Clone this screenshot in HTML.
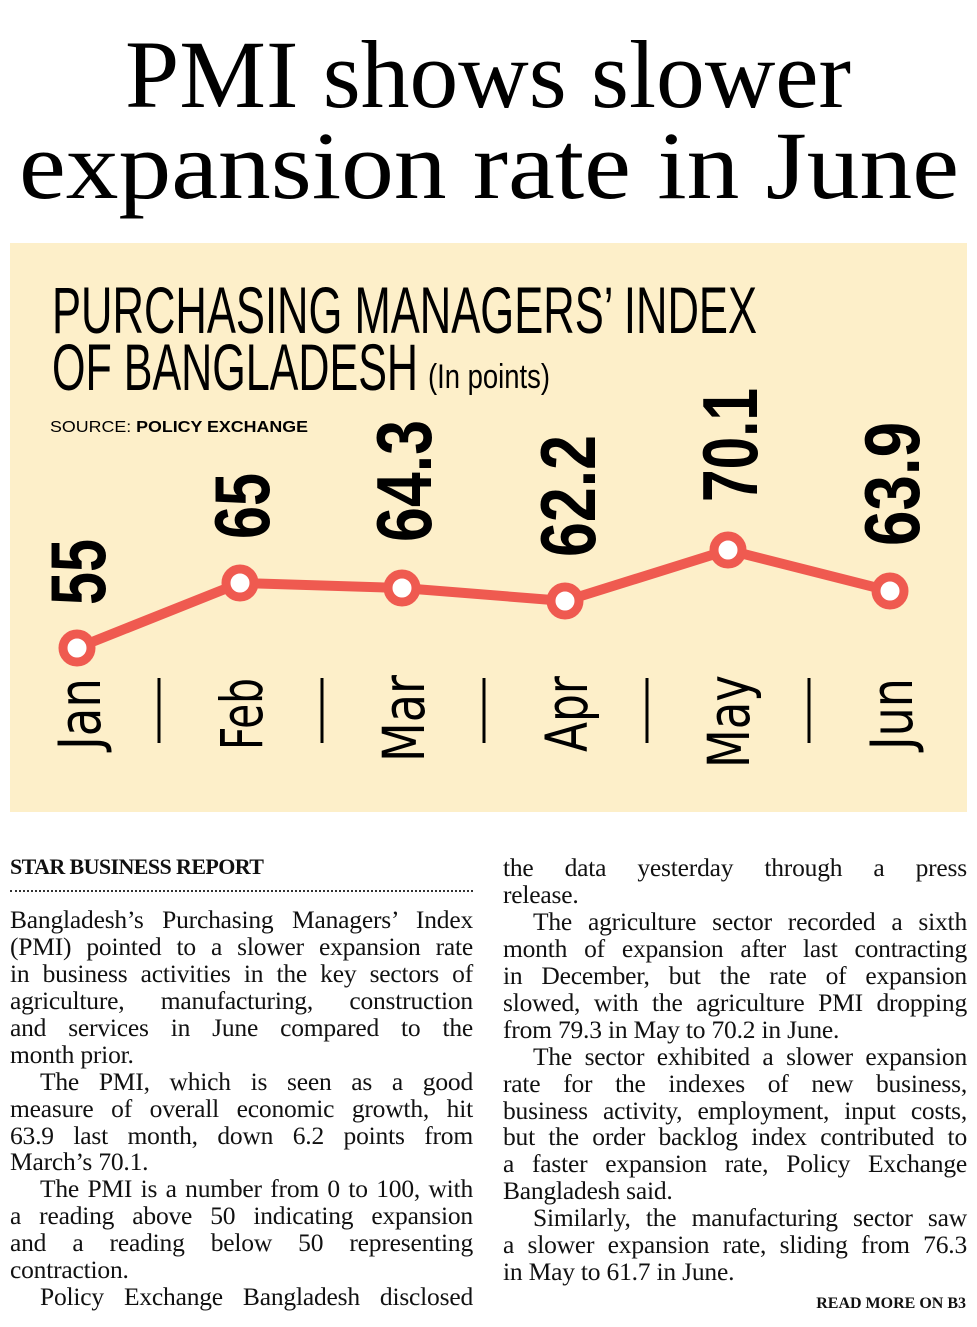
<!DOCTYPE html>
<html><head><meta charset="utf-8"><style>
body{margin:0;width:977px;height:1327px;background:#fff;position:relative;overflow:hidden;font-family:"Liberation Serif",serif;}
.l{position:absolute;height:27px;line-height:27px;font-size:25.5px;letter-spacing:-0.2px;color:#111;white-space:nowrap;}
.j{text-align:justify;text-align-last:justify;white-space:normal;}
.L{left:10px;width:463px}.R{left:503px;width:464px}
.i{text-indent:30px}
</style></head><body>
<svg width="977" height="820" style="position:absolute;left:0;top:0">
<text x="488" y="107" text-anchor="middle" font-family="Liberation Serif" font-size="96" textLength="726" lengthAdjust="spacingAndGlyphs" fill="#000">PMI shows slower</text>
<text x="489" y="198" text-anchor="middle" font-family="Liberation Serif" font-size="96" textLength="940" lengthAdjust="spacingAndGlyphs" fill="#000">expansion rate in June</text>
<rect x="10" y="243" width="957" height="569" fill="#fdefc9"/>
<text x="52" y="333" font-family="Liberation Sans" font-size="66" textLength="705" lengthAdjust="spacingAndGlyphs" fill="#000">PURCHASING MANAGERS’ INDEX</text>
<text x="52" y="390" font-family="Liberation Sans" font-size="66" textLength="366" lengthAdjust="spacingAndGlyphs" fill="#000">OF BANGLADESH</text>
<text x="428" y="388" font-family="Liberation Sans" font-size="34" textLength="122" lengthAdjust="spacingAndGlyphs" fill="#000">(In points)</text>
<text x="50" y="432" font-family="Liberation Sans" font-size="16" textLength="258" lengthAdjust="spacingAndGlyphs" fill="#000">SOURCE: <tspan font-weight="bold">POLICY EXCHANGE</tspan></text>
<g stroke="#000" stroke-width="3">
<line x1="159" y1="678" x2="159" y2="743"/><line x1="322" y1="678" x2="322" y2="743"/><line x1="484" y1="678" x2="484" y2="743"/><line x1="647" y1="678" x2="647" y2="743"/><line x1="809" y1="678" x2="809" y2="743"/>
</g>
<polyline points="77,648 240,583 402,588 565,601 728,550 890,591" fill="none" stroke="#ef5a50" stroke-width="10" stroke-linejoin="round"/>
<g fill="#fff" stroke="#ef5a50" stroke-width="9">
<circle cx="77" cy="648" r="14"/><circle cx="240" cy="583" r="14"/><circle cx="402" cy="588" r="14"/><circle cx="565" cy="601" r="14"/><circle cx="728" cy="550" r="14"/><circle cx="890" cy="591" r="14"/>
</g>
<g font-family="DejaVu Sans" font-size="58" fill="#000">
<text transform="translate(100,750) rotate(-90)" textLength="72" lengthAdjust="spacingAndGlyphs">Jan</text>
<text transform="translate(262,750) rotate(-90)" textLength="72" lengthAdjust="spacingAndGlyphs">Feb</text>
<text transform="translate(424,762) rotate(-90)" textLength="87" lengthAdjust="spacingAndGlyphs">Mar</text>
<text transform="translate(587,752) rotate(-90)" textLength="76" lengthAdjust="spacingAndGlyphs">Apr</text>
<text transform="translate(749,768) rotate(-90)" textLength="93" lengthAdjust="spacingAndGlyphs">May</text>
<text transform="translate(912,750) rotate(-90)" textLength="72" lengthAdjust="spacingAndGlyphs">Jun</text>
</g>
<g font-family="Liberation Sans" font-weight="bold" font-size="78" fill="#000">
<text transform="translate(105,605) rotate(-90)" textLength="66" lengthAdjust="spacingAndGlyphs">55</text>
<text transform="translate(269,539) rotate(-90)" textLength="66" lengthAdjust="spacingAndGlyphs">65</text>
<text transform="translate(431,542) rotate(-90)" textLength="122" lengthAdjust="spacingAndGlyphs">64.3</text>
<text transform="translate(595,557) rotate(-90)" textLength="122" lengthAdjust="spacingAndGlyphs">62.2</text>
<text transform="translate(757,502) rotate(-90)" textLength="114" lengthAdjust="spacingAndGlyphs">70.1</text>
<text transform="translate(919,546) rotate(-90)" textLength="124" lengthAdjust="spacingAndGlyphs">63.9</text>
</g>
</svg>
<div class="l L" style="top:853px;font-weight:bold;font-size:22px;letter-spacing:-0.6px">STAR BUSINESS REPORT</div>
<div style="position:absolute;left:10px;top:890px;width:463px;border-top:2px dotted #333"></div>
<div class="l L j" style="top:906px">Bangladesh’s Purchasing Managers’ Index</div>
<div class="l L j" style="top:933px">(PMI) pointed to a slower expansion rate</div>
<div class="l L j" style="top:960px">in business activities in the key sectors of</div>
<div class="l L j" style="top:987px">agriculture, manufacturing, construction</div>
<div class="l L j" style="top:1014px">and services in June compared to the</div>
<div class="l L" style="top:1041px">month prior.</div>
<div class="l L j i" style="top:1068px">The PMI, which is seen as a good</div>
<div class="l L j" style="top:1095px">measure of overall economic growth, hit</div>
<div class="l L j" style="top:1122px">63.9 last month, down 6.2 points from</div>
<div class="l L" style="top:1148px">March’s 70.1.</div>
<div class="l L j i" style="top:1175px">The PMI is a number from 0 to 100, with</div>
<div class="l L j" style="top:1202px">a reading above 50 indicating expansion</div>
<div class="l L j" style="top:1229px">and a reading below 50 representing</div>
<div class="l L" style="top:1256px">contraction.</div>
<div class="l L j i" style="top:1283px">Policy Exchange Bangladesh disclosed</div>

<div class="l R j" style="top:854px">the data yesterday through a press</div>
<div class="l R" style="top:881px">release.</div>
<div class="l R j i" style="top:908px">The agriculture sector recorded a sixth</div>
<div class="l R j" style="top:935px">month of expansion after last contracting</div>
<div class="l R j" style="top:962px">in December, but the rate of expansion</div>
<div class="l R j" style="top:989px">slowed, with the agriculture PMI dropping</div>
<div class="l R" style="top:1016px">from 79.3 in May to 70.2 in June.</div>
<div class="l R j i" style="top:1043px">The sector exhibited a slower expansion</div>
<div class="l R j" style="top:1070px">rate for the indexes of new business,</div>
<div class="l R j" style="top:1097px">business activity, employment, input costs,</div>
<div class="l R j" style="top:1123px">but the order backlog index contributed to</div>
<div class="l R j" style="top:1150px">a faster expansion rate, Policy Exchange</div>
<div class="l R" style="top:1177px">Bangladesh said.</div>
<div class="l R j i" style="top:1204px">Similarly, the manufacturing sector saw</div>
<div class="l R j" style="top:1231px">a slower expansion rate, sliding from 76.3</div>
<div class="l R" style="top:1258px">in May to 61.7 in June.</div>
<div class="l" style="top:1290px;right:11px;font-size:16px;font-weight:bold;letter-spacing:0">READ MORE ON B3</div>
</body></html>
